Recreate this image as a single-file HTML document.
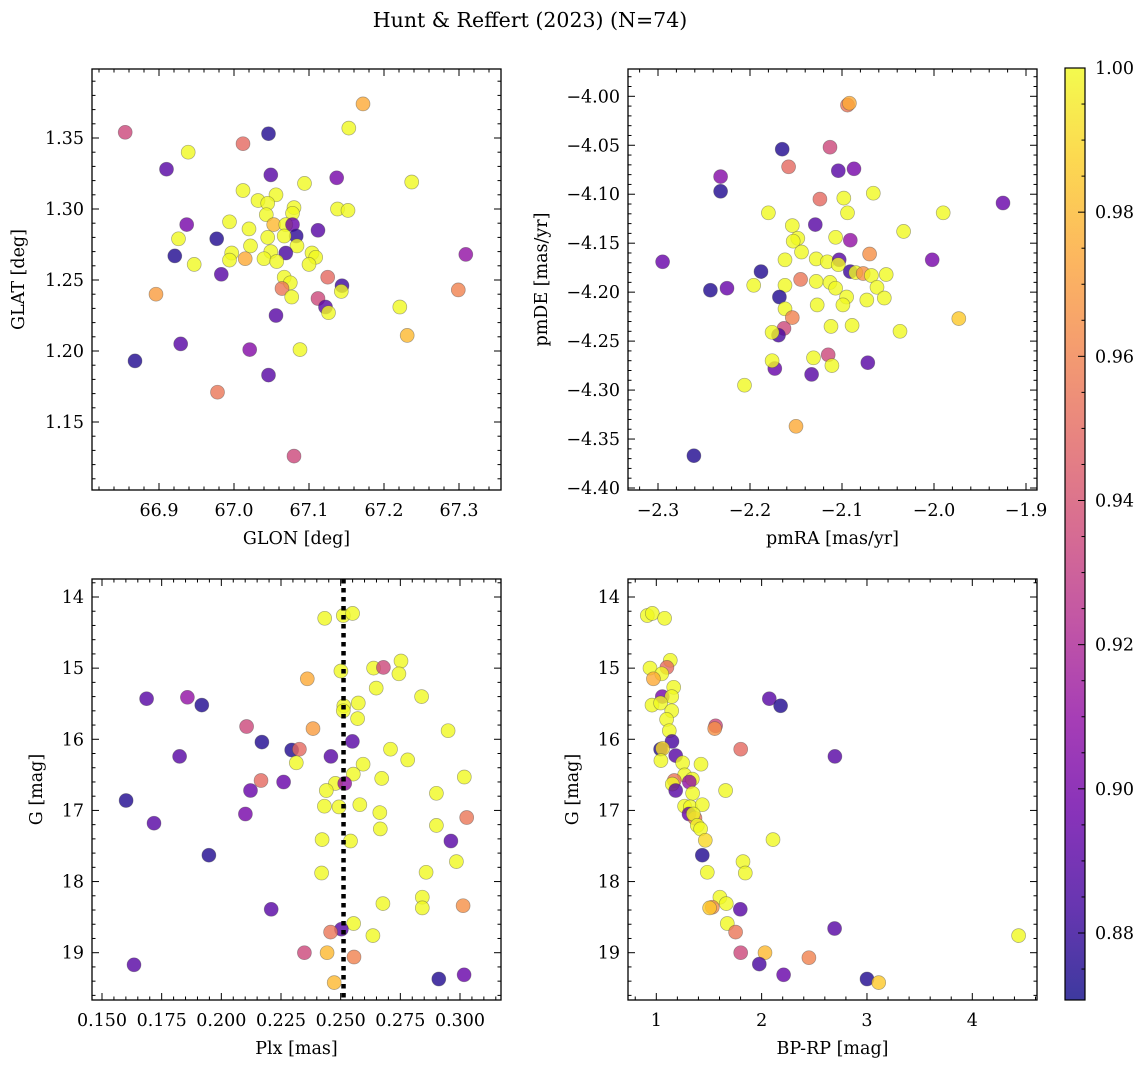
<!DOCTYPE html>
<html><head><meta charset="utf-8">
<style>
html,body{margin:0;padding:0;background:#fff;}
svg{display:block;font-family:"DejaVu Serif","Liberation Serif",serif;}
</style></head>
<body>
<svg id="fig" width="1148" height="1068" viewBox="0 0 1148 1068" xmlns="http://www.w3.org/2000/svg">
<defs>
<linearGradient id="plasma" x1="0" y1="1" x2="0" y2="0">
<stop offset="0" stop-color="#0d0887"/><stop offset="0.1" stop-color="#41049d"/><stop offset="0.2" stop-color="#6a00a8"/><stop offset="0.3" stop-color="#8f0da4"/><stop offset="0.4" stop-color="#b12a90"/><stop offset="0.5" stop-color="#cc4778"/><stop offset="0.6" stop-color="#e16462"/><stop offset="0.7" stop-color="#f2844b"/><stop offset="0.8" stop-color="#fca636"/><stop offset="0.9" stop-color="#fcce25"/><stop offset="1" stop-color="#f0f921"/>
</linearGradient>
</defs>
<text x="530" y="27" font-size="20.5" text-anchor="middle">Hunt &amp; Reffert (2023) (N=74)</text>
</svg>
<script>
// ---- Panel 1: GLON vs GLAT
const p1Glon=[66.855,67.046,67.012,67.172,67.153,66.939,66.910,67.049,67.137,67.237,67.094,67.012,67.056,67.032,67.045,67.080,67.138,67.152,67.043,67.078,66.994,66.937,67.053,67.069,67.078,67.020,67.112,66.977,66.926,67.083,67.045,67.067,67.084,67.022,66.921,66.997,67.069,67.049,67.104,67.109,66.947,66.994,67.015,67.040,67.057,67.100,67.309,66.983,67.125,67.067,67.075,67.144,67.143,67.064,67.077,66.896,67.299,67.112,67.122,67.126,67.221,67.056,67.231,66.929,67.021,67.088,66.868,67.046,66.978,67.080];
const p1Glat=[1.354,1.353,1.346,1.374,1.357,1.340,1.328,1.324,1.322,1.319,1.318,1.313,1.310,1.306,1.304,1.301,1.300,1.299,1.296,1.297,1.291,1.289,1.289,1.289,1.289,1.286,1.285,1.279,1.279,1.281,1.280,1.281,1.274,1.274,1.267,1.269,1.269,1.270,1.269,1.266,1.261,1.264,1.265,1.265,1.263,1.261,1.268,1.254,1.252,1.252,1.248,1.246,1.242,1.244,1.238,1.240,1.243,1.237,1.231,1.227,1.231,1.225,1.211,1.205,1.201,1.201,1.193,1.183,1.171,1.126];
const p1Prob=[0.935,0.875,0.95,0.975,1,1,0.89,0.89,0.9,1,1,1,1,1,1,1,1,1,1,1,1,0.9,0.98,1,0.895,1,0.89,0.875,1,0.878,1,1,1,1,0.875,1,0.885,1,1,1,1,1,0.975,1,1,1,0.91,0.89,0.95,1,1,0.882,1,0.955,1,0.97,0.96,0.935,0.89,1,1,0.89,0.98,0.89,0.905,1,0.875,0.89,0.955,0.935];
// ---- Panel 2: pmRA vs pmDE
const p2PmRA=[-2.094,-2.092,-2.113,-2.165,-2.158,-2.104,-2.087,-2.232,-2.232,-2.066,-2.098,-2.124,-1.925,-2.180,-2.094,-1.990,-2.129,-2.154,-2.033,-2.107,-2.148,-2.153,-2.091,-2.144,-2.070,-2.295,-2.162,-2.128,-2.116,-2.103,-2.104,-2.002,-2.188,-2.091,-2.085,-2.077,-2.068,-2.052,-2.145,-2.196,-2.162,-2.128,-2.113,-2.243,-2.225,-2.107,-2.062,-2.168,-2.095,-2.073,-2.054,-2.127,-2.099,-2.162,-2.154,-1.973,-2.112,-2.089,-2.163,-2.169,-2.176,-2.037,-2.115,-2.131,-2.111,-2.072,-2.173,-2.176,-2.133,-2.206,-2.150,-2.261];
const p2PmDE=[-4.009,-4.007,-4.052,-4.054,-4.072,-4.076,-4.074,-4.082,-4.097,-4.099,-4.104,-4.105,-4.109,-4.119,-4.119,-4.119,-4.131,-4.132,-4.138,-4.144,-4.145,-4.148,-4.147,-4.159,-4.161,-4.169,-4.167,-4.166,-4.169,-4.167,-4.172,-4.167,-4.179,-4.179,-4.180,-4.181,-4.183,-4.182,-4.187,-4.193,-4.193,-4.189,-4.190,-4.198,-4.196,-4.196,-4.195,-4.205,-4.205,-4.208,-4.206,-4.213,-4.213,-4.217,-4.226,-4.227,-4.235,-4.234,-4.237,-4.244,-4.241,-4.240,-4.264,-4.267,-4.275,-4.272,-4.278,-4.270,-4.284,-4.295,-4.337,-4.367];
const p2Prob=[0.955,0.975,0.935,0.875,0.95,0.89,0.9,0.905,0.875,1,1,0.95,0.895,1,1,1,0.89,1,1,1,1,1,0.91,1,0.965,0.895,1,1,1,0.89,1,0.9,0.875,0.882,1,0.965,1,1,0.955,1,1,1,1,0.875,0.895,1,1,0.875,1,1,1,1,1,1,0.96,0.985,1,1,0.935,0.885,1,1,0.935,1,1,0.89,0.895,1,0.89,1,0.975,0.875];
// ---- Panel 3: Plx vs G
const p3Plx=[0.2433,0.2511,0.2550,0.2753,0.2638,0.2679,0.2744,0.2501,0.2360,0.2649,0.1687,0.1858,0.1918,0.2839,0.2513,0.2511,0.2574,0.2571,0.2106,0.2384,0.2950,0.2170,0.2549,0.2295,0.2327,0.1825,0.2459,0.2709,0.2781,0.2314,0.2594,0.2553,0.2672,0.3018,0.2166,0.2261,0.2122,0.2478,0.2517,0.2440,0.2901,0.1601,0.2432,0.2493,0.2580,0.2101,0.2664,0.3028,0.1718,0.2666,0.2901,0.2422,0.2541,0.2962,0.1948,0.2985,0.2420,0.2858,0.2209,0.2677,0.2842,0.2842,0.3013,0.2554,0.2503,0.2458,0.2635,0.2348,0.2443,0.2556,0.1634,0.2911,0.3017,0.2473];
const p3G=[14.30,14.26,14.23,14.90,15.00,14.99,15.08,15.04,15.15,15.28,15.43,15.41,15.52,15.40,15.53,15.60,15.49,15.71,15.82,15.85,15.88,16.04,16.03,16.15,16.14,16.24,16.24,16.14,16.29,16.33,16.35,16.49,16.55,16.53,16.58,16.60,16.72,16.62,16.62,16.72,16.76,16.86,16.94,16.95,16.92,17.05,17.03,17.10,17.18,17.26,17.21,17.41,17.43,17.43,17.63,17.72,17.88,17.87,18.39,18.31,18.22,18.37,18.34,18.59,18.67,18.71,18.76,19.00,19.00,19.06,19.17,19.37,19.31,19.42];
const p3Prob=[1,1,1,1,1,0.935,1,1,0.975,1,0.89,0.91,0.875,1,1,1,1,1,0.935,0.97,1,0.875,0.89,0.875,0.95,0.89,0.89,1,1,1,1,1,1,1,0.95,0.895,0.895,1,0.91,1,1,0.875,1,1,1,0.9,1,0.955,0.89,1,1,1,1,0.89,0.875,1,1,1,0.89,1,1,1,0.965,1,0.89,0.955,1,0.935,0.98,0.96,0.89,0.875,0.895,0.98];
const plxVline=[0.2512];
// ---- Panel 4: BP-RP vs G
const p4BpRp=[0.915,0.962,1.079,1.133,0.940,1.101,1.051,0.972,1.165,1.057,1.146,0.959,1.041,1.146,2.073,2.180,1.098,1.563,1.554,1.123,1.149,1.041,1.060,1.801,1.184,2.696,1.044,1.250,1.424,1.269,1.342,1.313,1.171,1.152,1.184,1.345,1.658,1.269,1.323,1.437,1.310,1.367,1.351,1.389,1.421,1.465,2.108,1.437,1.823,1.484,1.845,1.604,1.665,1.532,1.506,1.797,1.674,1.753,2.693,4.440,1.801,2.032,2.449,1.978,2.209,3.000,3.111];
const p4G=[14.26,14.23,14.30,14.89,15.00,14.99,15.08,15.15,15.27,15.40,15.40,15.52,15.49,15.60,15.43,15.53,15.72,15.81,15.85,15.88,16.03,16.14,16.13,16.14,16.23,16.24,16.30,16.33,16.35,16.50,16.56,16.60,16.58,16.63,16.72,16.76,16.72,16.94,16.95,16.92,17.05,17.11,17.05,17.21,17.26,17.42,17.41,17.63,17.72,17.87,17.88,18.22,18.31,18.36,18.37,18.39,18.59,18.71,18.66,18.76,19.00,19.00,19.07,19.16,19.31,19.37,19.42];
const p4Prob=[1,1,1,1,1,0.95,1,0.975,1,0.9,1,1,1,1,0.89,0.875,1,0.935,0.965,1,0.885,0.875,0.99,0.95,0.89,0.89,1,1,1,1,1,0.91,0.955,1,0.89,1,1,1,1,1,0.895,0.955,1,1,1,0.99,1,0.875,1,1,1,1,1,0.965,0.985,0.89,1,0.955,0.89,1,0.935,0.98,0.96,0.885,0.895,0.875,0.985];
// ---- Colorbar ticks
const cbarTicks=[0.88,0.90,0.92,0.94,0.96,0.98,1.00];
const cbarMin=0.8707, cbarMax=1.0;

const NS="http://www.w3.org/2000/svg";
const svg=document.getElementById('fig');
function el(tag,attrs,parent){const e=document.createElementNS(NS,tag);for(const k in attrs)e.setAttribute(k,attrs[k]);(parent||svg).appendChild(e);return e;}
function lin(v0,p0,v1,p1){const f=v=>p0+(v-v0)*(p1-p0)/(v1-v0);f.inv=p=>v0+(p-p0)*(v1-v0)/(p1-p0);return f;}
const stops=[[13,8,135],[65,4,157],[106,0,168],[143,13,164],[177,42,144],[204,71,120],[225,100,98],[242,132,75],[252,166,54],[252,206,37],[240,249,33]];
function plasma(p){let t=(p-cbarMin)/(cbarMax-cbarMin);t=Math.max(0,Math.min(1,t))*10;const i=Math.min(9,Math.floor(t)),f=t-i;const a=stops[i],b=stops[i+1];return `rgb(${Math.round(a[0]+(b[0]-a[0])*f)},${Math.round(a[1]+(b[1]-a[1])*f)},${Math.round(a[2]+(b[2]-a[2])*f)})`;}
function fmt(v,d){const s=Math.abs(v).toFixed(d);return (v<-1e-9?'\u2212':'')+s;}
const TF=17.5;

function panel(o){
  const g=el('g',{});
  
  
  const {x0,x1,y0,y1,xs,ys}=o;
  const pg=el('g',{},g);
  
  
  for(let i=0;i<Math.min(o.xv.length,o.yv.length,o.pv.length);i++){
    const c=el('circle',{cx:xs(o.xv[i]).toFixed(1),cy:ys(o.yv[i]).toFixed(1),r:7,fill:plasma(o.pv[i]),'fill-opacity':0.8,stroke:'#444','stroke-opacity':0.45,'stroke-width':0.7},pg);
    
    
  }
  if(o.vline){for(const v of o.vline){const l=el('line',{x1:xs(v),x2:xs(v),y1:y0,y2:y1,stroke:'#000','stroke-width':4.5,'stroke-dasharray':'4.5 4.5'},g);
    
    }}
  const fr=el('rect',{x:x0,y:y0,width:x1-x0,height:y1-y0,fill:'none',stroke:'#000','stroke-width':1.3},g);
  
  
  const tg=el('g',{stroke:'#000','stroke-width':1},g);
  const eps=1e-9;
  const xa=xs.inv(x0),xb=xs.inv(x1);const xlo=Math.min(xa,xb),xhi=Math.max(xa,xb);
  for(let k=Math.ceil(xlo/o.xminor-eps);k*o.xminor<=xhi+eps;k++){
    const v=k*o.xminor;const px=xs(v);if(px<x0+0.5||px>x1-0.5)continue;
    const major=Math.abs(v/o.xmajor-Math.round(v/o.xmajor))<1e-6;const L=major?7:3.5;
    el('line',{x1:px,x2:px,y1:y1,y2:y1-L},tg);el('line',{x1:px,x2:px,y1:y0,y2:y0+L},tg);
    if(major){const t=el('text',{x:px,y:y1+26,'font-size':TF,'text-anchor':'middle',stroke:'none',fill:'#000'},g);t.textContent=fmt(v,o.xdec);
      
      }
  }
  const ya=ys.inv(y0),yb=ys.inv(y1);const ylo=Math.min(ya,yb),yhi=Math.max(ya,yb);
  for(let k=Math.ceil(ylo/o.yminor-eps);k*o.yminor<=yhi+eps;k++){
    const v=k*o.yminor;const py=ys(v);if(py<y0+0.5||py>y1-0.5)continue;
    const major=Math.abs(v/o.ymajor-Math.round(v/o.ymajor))<1e-6;const L=major?7:3.5;
    el('line',{x1:x0,x2:x0+L,y1:py,y2:py},tg);el('line',{x1:x1,x2:x1-L,y1:py,y2:py},tg);
    if(major){const t=el('text',{x:x0-8,y:py+6,'font-size':TF,'text-anchor':'end',stroke:'none',fill:'#000'},g);t.textContent=fmt(v,o.ydec);
      
      }
  }
  const xl=el('text',{x:(x0+x1)/2,y:y1+54,'font-size':17.5,'text-anchor':'middle'},g);xl.textContent=o.xlabel;
  
  
  const yl=el('text',{x:0,y:0,'font-size':17.5,'text-anchor':'middle',transform:`translate(${o.ylx},${(y0+y1)/2}) rotate(-90)`},g);yl.textContent=o.ylabel;
  
  
}

panel({name:'glon-glat-panel',x0:92,x1:501,y0:69,y1:490,xs:lin(66.9,159,67.3,459),ys:lin(1.35,138,1.15,422),xv:p1Glon,yv:p1Glat,pv:p1Prob,xmajor:0.1,xminor:0.02,ymajor:0.05,yminor:0.01,xdec:1,ydec:2,xlabel:'GLON [deg]',ylabel:'GLAT [deg]',ylx:24});
panel({name:'proper-motion-panel',x0:628,x1:1037,y0:69,y1:490,xs:lin(-2.3,658,-1.9,1026),ys:lin(-4.0,96.3,-4.4,488),xv:p2PmRA,yv:p2PmDE,pv:p2Prob,xmajor:0.1,xminor:0.02,ymajor:0.05,yminor:0.01,xdec:1,ydec:2,xlabel:'pmRA [mas/yr]',ylabel:'pmDE [mas/yr]',ylx:547});
panel({name:'parallax-magnitude-panel',x0:92,x1:501,y0:579,y1:1000,xs:lin(0.15,102,0.30,460),ys:lin(14,597,19,952.7),xv:p3Plx,yv:p3G,pv:p3Prob,xmajor:0.025,xminor:0.005,ymajor:1,yminor:0.2,xdec:3,ydec:0,xlabel:'Plx [mas]',ylabel:'G [mag]',ylx:42,vline:plxVline});
panel({name:'color-magnitude-panel',x0:628,x1:1037,y0:579,y1:1000,xs:lin(1,656.3,4,972.3),ys:lin(14,597,19,952.7),xv:p4BpRp,yv:p4G,pv:p4Prob,xmajor:1,xminor:0.2,ymajor:1,yminor:0.2,xdec:0,ydec:0,xlabel:'BP-RP [mag]',ylabel:'G [mag]',ylx:578});

(function(){
  const g=el('g',{});
  
  
  const cx0=1065,cx1=1085,cy0=68,cy1=1000;
  const cs=lin(1.0,68,0.88,933);
  el('rect',{x:cx0,y:cy0,width:cx1-cx0,height:cy1-cy0,fill:'url(#plasma)','fill-opacity':0.8},g);
  el('rect',{x:cx0,y:cy0,width:cx1-cx0,height:cy1-cy0,fill:'none',stroke:'#000','stroke-width':1.2},g);
  for(let v=0.870;v<=1.0001;v+=0.005){const py=cs(v);if(py<cy0-0.5||py>cy1)continue;
    const major=cbarTicks.some(t=>Math.abs(t-v)<1e-4);
    el('line',{x1:cx1,x2:cx1-(major?7:3.5),y1:py,y2:py,stroke:'#000','stroke-width':1},g);}
  for(const t of cbarTicks){const tx=el('text',{x:1095,y:cs(t)+6,'font-size':TF},g);tx.textContent=t.toFixed(2);
    
    }
})();
</script>
</body></html>
